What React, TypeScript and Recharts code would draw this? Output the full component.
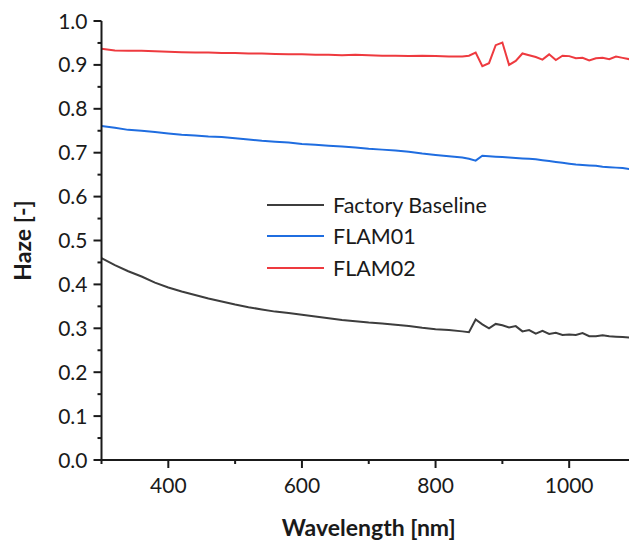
import { Legend, Line, LineChart, XAxis, YAxis } from 'recharts';

const wavelengths = [
  300, 320, 340, 360, 380, 400, 420, 440, 460, 480, 500, 520, 540, 560, 580, 600, 620, 640, 660, 680, 700, 720, 740,
  760, 780, 800, 820, 840, 850, 860, 870, 880, 890, 900, 910, 920, 930, 940, 950, 960, 970, 980, 990, 1000, 1010,
  1020, 1030, 1040, 1050, 1060, 1070, 1080, 1090,
];

const factoryBaseline = [
  0.46, 0.444, 0.43, 0.418, 0.404, 0.393, 0.384, 0.376, 0.368, 0.361, 0.354, 0.348, 0.343, 0.338, 0.335, 0.331, 0.327,
  0.323, 0.319, 0.316, 0.313, 0.311, 0.308, 0.305, 0.301, 0.298, 0.296, 0.293, 0.291, 0.32, 0.309, 0.3, 0.31, 0.307,
  0.302, 0.305, 0.293, 0.296, 0.288, 0.294, 0.287, 0.29, 0.285, 0.286, 0.285, 0.289, 0.282, 0.282, 0.284, 0.282, 0.281,
  0.28, 0.279,
];

const flam01 = [
  0.761, 0.757, 0.752, 0.75, 0.747, 0.744, 0.741, 0.739, 0.737, 0.736, 0.733, 0.73, 0.727, 0.725, 0.723, 0.72, 0.718,
  0.716, 0.714, 0.712, 0.709, 0.707, 0.705, 0.702, 0.698, 0.695, 0.692, 0.689, 0.686, 0.682, 0.693, 0.692, 0.691, 0.69,
  0.689, 0.688, 0.687, 0.686, 0.685, 0.683, 0.681, 0.679, 0.677, 0.675, 0.673, 0.672, 0.671, 0.67, 0.668, 0.667, 0.666,
  0.665, 0.663,
];

const flam02 = [
  0.937, 0.933, 0.932, 0.932, 0.931, 0.93, 0.929, 0.928, 0.928, 0.927, 0.927, 0.926, 0.926, 0.925, 0.924, 0.924, 0.923,
  0.923, 0.922, 0.923, 0.922, 0.921, 0.921, 0.92, 0.921, 0.92, 0.919, 0.919, 0.921, 0.928, 0.897, 0.904, 0.945, 0.951,
  0.9, 0.909, 0.926, 0.922, 0.918, 0.912, 0.924, 0.911, 0.921, 0.92, 0.915, 0.916, 0.91, 0.915, 0.916, 0.913, 0.919,
  0.916, 0.913,
];

const xTicks = [300, 400, 500, 600, 700, 800, 900, 1000, 1100];
const xMajor = [400, 600, 800, 1000];
const yTicks = [
  0, 0.05, 0.1, 0.15, 0.2, 0.25, 0.3, 0.35, 0.4, 0.45, 0.5, 0.55, 0.6, 0.65, 0.7, 0.75, 0.8, 0.85, 0.9, 0.95, 1,
];

const data = wavelengths.map((w, i) => ({
  wavelength: w,
  baseline: factoryBaseline[i],
  flam01: flam01[i],
  flam02: flam02[i],
}));

const INK = '#1a1a1a';
const FONT = 'Lato, sans-serif';

const isMajorY = (v: number) => Math.round(v * 100) % 10 === 0;

function BottomTick({ x, y, payload }: any) {
  const major = xMajor.includes(payload.value);
  return (
    <g>
      <line x1={x} x2={x} y1={y} y2={y + (major ? 8 : 4)} stroke={INK} strokeWidth={2} />
      {major && (
        <text x={x} y={y + 33} textAnchor="middle" fontFamily={FONT} fontSize={21} fill={INK}>
          {payload.value}
        </text>
      )}
    </g>
  );
}

function TopTick({ x, y, payload }: any) {
  const major = xMajor.includes(payload.value);
  return <line x1={x} x2={x} y1={y} y2={y + (major ? 8 : 4)} stroke={INK} strokeWidth={2} />;
}

function LeftTick({ x, y, payload }: any) {
  const major = isMajorY(payload.value);
  return (
    <g>
      <line x1={x} x2={x - (major ? 8 : 4)} y1={y} y2={y} stroke={INK} strokeWidth={2} />
      {major && (
        <text x={x - 14} y={y + 7.5} textAnchor="end" fontFamily={FONT} fontSize={21} fill={INK}>
          {payload.value.toFixed(1)}
        </text>
      )}
    </g>
  );
}

function RightTick({ x, y, payload }: any) {
  const major = isMajorY(payload.value);
  return <line x1={x} x2={x - (major ? 8 : 4)} y1={y} y2={y} stroke={INK} strokeWidth={2} />;
}

function LegendBox({ payload }: any) {
  return (
    <div style={{ fontFamily: FONT, fontSize: 21.5, color: INK }}>
      {(payload || []).map((entry: any) => (
        <div key={entry.value} style={{ display: 'flex', alignItems: 'center', height: 31.5 }}>
          <svg width={57} height={4} style={{ display: 'block' }}>
            <line x1={0} x2={57} y1={2} y2={2} stroke={entry.color} strokeWidth={2} />
          </svg>
          <span style={{ marginLeft: 9 }}>{entry.value}</span>
        </div>
      ))}
    </div>
  );
}

export default function App() {
  return (
    <div style={{ position: 'absolute', left: 0, top: 0, width: 629, height: 543, overflow: 'hidden', background: '#fff' }}>
      <LineChart width={640} height={543} data={data} margin={{ top: 21, right: 4, bottom: 0, left: 0 }}>
        <XAxis
          xAxisId="b"
          dataKey="wavelength"
          type="number"
          domain={[300, 1100]}
          ticks={xTicks}
          interval={0}
          height={83}
          tickSize={0}
          tickMargin={0}
          tickLine={false}
          axisLine={{ stroke: INK, strokeWidth: 2 }}
          tick={<BottomTick />}
          label={{
            value: 'Wavelength [nm]',
            position: 'insideBottom',
            offset: 7,
            style: { fontFamily: FONT, fontSize: 23, fontWeight: 700, fill: INK },
          }}
        />
        <XAxis
          xAxisId="t"
          orientation="top"
          type="number"
          domain={[300, 1100]}
          allowDataOverflow
          ticks={xTicks}
          interval={0}
          height={0}
          tickSize={0}
          tickMargin={0}
          tickLine={false}
          axisLine={{ stroke: INK, strokeWidth: 2 }}
          tick={<TopTick />}
        />
        <YAxis
          yAxisId="l"
          type="number"
          domain={[0, 1]}
          ticks={yTicks}
          interval={0}
          width={101.5}
          tickSize={0}
          tickMargin={0}
          tickLine={false}
          axisLine={{ stroke: INK, strokeWidth: 2 }}
          tick={<LeftTick />}
          label={{
            value: 'Haze [-]',
            angle: -90,
            position: 'insideLeft',
            offset: 23,
            style: { fontFamily: FONT, fontSize: 23, fontWeight: 700, fill: INK, textAnchor: 'middle' },
          }}
        />
        <YAxis
          yAxisId="r"
          orientation="right"
          type="number"
          domain={[0, 1]}
          allowDataOverflow
          ticks={yTicks}
          interval={0}
          width={0}
          tickSize={0}
          tickMargin={0}
          tickLine={false}
          axisLine={{ stroke: INK, strokeWidth: 2 }}
          tick={<RightTick />}
        />
        <Legend
          layout="vertical"
          align="center"
          verticalAlign="middle"
          itemSorter="dataKey"
          content={<LegendBox />}
          wrapperStyle={{ left: 267, top: 189, width: 280 }}
        />
        <Line
          xAxisId="b"
          yAxisId="l"
          dataKey="baseline"
          name="Factory Baseline"
          stroke="#3d3d3d"
          strokeWidth={2}
          dot={false}
          isAnimationActive={false}
        />
        <Line
          xAxisId="b"
          yAxisId="l"
          dataKey="flam01"
          name="FLAM01"
          stroke="#1f6de0"
          strokeWidth={2}
          dot={false}
          isAnimationActive={false}
        />
        <Line
          xAxisId="b"
          yAxisId="l"
          dataKey="flam02"
          name="FLAM02"
          stroke="#ee3a3f"
          strokeWidth={2}
          dot={false}
          isAnimationActive={false}
        />
      </LineChart>
    </div>
  );
}
